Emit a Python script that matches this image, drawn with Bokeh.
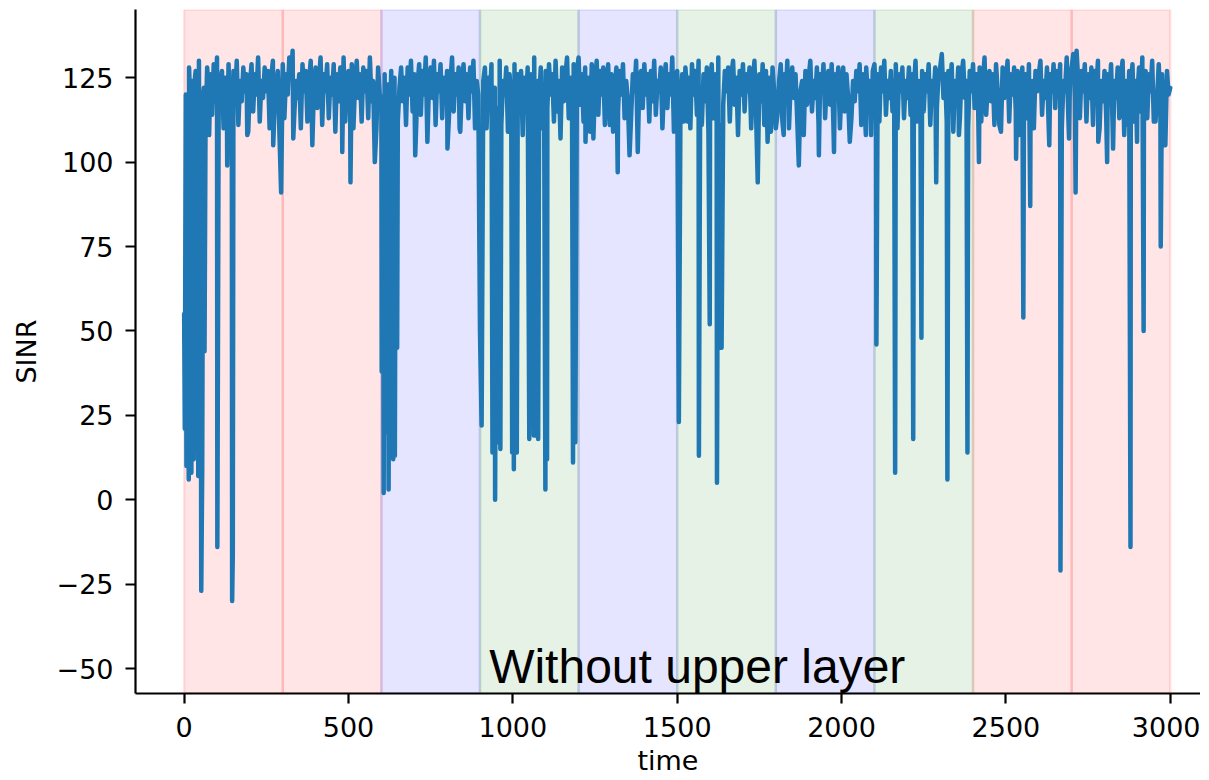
from bokeh.plotting import figure
from bokeh.models import BoxAnnotation, Label, CustomJSTickFormatter, FixedTicker, Range1d
from bokeh.embed import file_html
from bokeh.resources import INLINE

# ---------------- data ----------------
base_step = 5
base_values = [
    55, 126, 112, 128, 119, 124, 109, 127, 121, 130,
    117, 125, 122, 110, 128, 120, 126, 114, 129, 118,
    131, 116, 124, 127, 110, 125, 120, 129, 113, 123,
    127, 119, 130, 111, 124, 118, 128, 121, 126, 109,
    123, 129, 115, 126, 120, 131, 112, 124, 119, 128,
    121, 127, 110, 125, 130, 116, 123, 127, 108, 118,
    129, 113, 126, 120, 131, 125, 133, 114, 124, 119,
    126, 110, 129, 121, 127, 112, 124, 130, 118, 123,
    128, 116, 124, 131, 111, 126, 121, 129, 113, 125,
    120, 129, 109, 126, 118, 128, 122, 131, 112, 124,
    127, 115, 129, 110, 123, 130, 119, 126, 112, 128,
    121, 127, 113, 131, 118, 124, 129, 110, 128, 120,
    119, 114, 126, 110, 123, 117, 127, 108, 125, 116,
    112, 122, 128, 118, 125, 111, 128, 120, 130, 115,
    126, 108, 123, 129, 114, 127, 120, 131, 112, 124,
    128, 119, 130, 111, 126, 121, 129, 113, 125, 118,
    127, 112, 124, 131, 115, 126, 120, 128, 109, 123,
    129, 118, 126, 113, 128, 121, 130, 110, 124, 120,
    126, 112, 124, 128, 110, 125, 119, 129, 114, 122,
    127, 116, 130, 111, 124, 120, 128, 109, 126, 118,
    123, 129, 113, 126, 120, 127, 108, 125, 117, 128,
    115, 126, 121, 131, 111, 124, 119, 128, 110, 123,
    127, 116, 129, 120, 126, 112, 130, 115, 124, 121,
    128, 118, 126, 131, 113, 125, 120, 129, 111, 127,
    131, 117, 126, 112, 128, 121, 125, 109, 129, 119,
    124, 130, 114, 127, 120, 128, 111, 123, 129, 116,
    126, 109, 122, 128, 115, 127, 120, 129, 113, 124,
    118, 128, 114, 126, 121, 130, 110, 125, 127, 116,
    129, 120, 126, 112, 127, 118, 130, 114, 124, 121,
    128, 110, 123, 129, 116, 126, 120, 131, 113, 124,
    127, 131, 118, 126, 112, 128, 121, 125, 110, 129,
    120, 127, 114, 130, 122, 111, 126, 118, 128, 109,
    124, 129, 113, 126, 119, 131, 111, 125, 117, 127,
    121, 128, 112, 126, 130, 117, 125, 108, 127, 120,
    129, 115, 126, 121, 128, 110, 124, 130, 114, 123,
    126, 118, 129, 111, 127, 120, 125, 109, 128, 121,
    127, 114, 124, 129, 112, 126, 119, 130, 110, 123,
    128, 119, 126, 113, 129, 121, 124, 108, 127, 117,
    125, 130, 115, 124, 119, 128, 111, 126, 121, 129,
    113, 124, 127, 117, 129, 112, 126, 120, 128, 110,
    123, 128, 115, 126, 119, 130, 113, 124, 118, 127,
    121, 129, 111, 126, 116, 128, 120, 124, 108, 127,
    129, 118, 126, 112, 128, 121, 130, 114, 124, 119,
    127, 115, 124, 129, 110, 126, 121, 128, 113, 124,
    119, 128, 114, 126, 122, 130, 112, 124, 118, 127,
    115, 126, 121, 129, 111, 124, 119, 128, 116, 126,
    128, 132, 119, 126, 112, 127, 121, 129, 109, 124,
    118, 128, 113, 126, 130, 119, 124, 110, 127, 121,
    129, 116, 126, 120, 128, 112, 124, 131, 114, 123,
    127, 118, 126, 111, 129, 121, 124, 109, 128, 119,
    124, 130, 112, 126, 120, 128, 115, 127, 108, 124,
    128, 118, 126, 113, 129, 120, 124, 110, 127, 121,
    126, 130, 114, 124, 119, 128, 111, 126, 121, 129,
    116, 127, 120, 129, 110, 124, 121, 131, 113, 126,
    128, 132, 119, 133, 124, 113, 127, 121, 129, 112,
    126, 119, 128, 111, 127, 122, 130, 110, 124, 118,
    127, 114, 126, 121, 129, 109, 124, 119, 128, 113,
    126, 130, 117, 124, 111, 127, 121, 129, 112, 124,
    120, 128, 115, 131, 122, 127, 113, 126, 121, 130,
    112, 124, 119, 129, 116, 126, 109, 123, 127, 120,
    122,
]

dip_times = [
    2, 5, 7, 11, 14, 17, 19, 22, 26, 29, 33, 36, 39, 43, 47, 52, 55, 58, 62,
    76, 101, 131, 146, 148, 192, 271, 295, 332, 390, 481, 506, 580,
    601, 604, 607, 612, 616, 622, 627, 631, 636, 641, 644, 648,
    703, 740, 801, 838,
    900, 905,
    938, 943, 946, 950, 953, 958, 962,
    998, 1003, 1008, 1012,
    1050, 1064, 1070, 1077,
    1099, 1104,
    1145,
    1183, 1190,
    1221, 1245, 1295, 1319, 1355, 1380,
    1490,
    1505, 1532, 1566, 1599, 1621, 1627, 1635,
    1745, 1775, 1800, 1824, 1870, 1931, 1977, 2025, 2074,
    2106, 2163, 2218, 2243, 2288, 2322, 2357, 2383,
    2418, 2480, 2531, 2553, 2574, 2632, 2666, 2692, 2712, 2781, 2808, 2826, 2860, 2879, 2899, 2919, 2955, 2971, 2985,
]
dip_values = [
    21, 120, 10, 45, 6, 122, 43, 8, 118, 12, 125, 20, 121, 7, 48, -27, 9, 120, 44,
    108, -14, 99, -30, -16, 108, 105, 91, 107, 105, 103, 94, 100,
    38, 118, 2, 20, 121, 3, 115, 28, 12, 13, 119, 45,
    102, 106, 104, 110,
    50, 22,
    14, 118, 0, 112, 17, 60, 15,
    14, 9, 40, 14,
    18, 19, 19, 18,
    3, 12,
    107,
    11, 17,
    106, 107, 111, 97, 102, 103,
    109,
    23, 112, 13, 52, 5, 45, 45,
    94, 106, 110, 108, 99, 102, 103, 106, 108,
    46, 8, 18, 48, 94, 6, 108, 14,
    100, 111, 101, 54, 87, 105, -21, 107, 91, 106, 100, 104, 108, -14, 106, 50, 112, 75, 105,
]

band_starts = [0, 300, 600, 900, 1200, 1500, 1800, 2100, 2400, 2700]
band_ends = [300, 600, 900, 1200, 1500, 1800, 2100, 2400, 2700, 3000]
band_colors = ["#ff0000", "#ff0000", "#0000ff", "#008000", "#0000ff",
               "#008000", "#0000ff", "#008000", "#ff0000", "#ff0000"]

x_ticks = [0, 500, 1000, 1500, 2000, 2500, 3000]
y_ticks = [-50, -25, 0, 25, 50, 75, 100, 125]

note_text = "Without upper layer"
note_x, note_y = 1561, -49.5

# merge base samples with the spike samples
series = {i * base_step: v for i, v in enumerate(base_values)}
series.update(dict(zip(dip_times, dip_values)))
times = sorted(series)
values = [series[t] for t in times]

# ---------------- figure ----------------
p = figure(width=1200, height=779, output_backend="svg", toolbar_location=None,
           x_range=Range1d(-148, 3092), y_range=Range1d(-57.4, 145.2),
           min_border_left=135, min_border_top=9, min_border_right=0, min_border_bottom=86)
p.outline_line_color = None
p.xgrid.visible = False
p.ygrid.visible = False
p.background_fill_color = "white"
p.border_fill_color = "white"

for s, e, c in zip(band_starts, band_ends, band_colors):
    p.add_layout(BoxAnnotation(left=s, right=e, fill_color=c, fill_alpha=0.1,
                               line_color=c, line_alpha=0.1, line_width=2.5, level="underlay"))

p.line(times, values, line_width=4.5, line_color="#1f77b4", line_join="round", line_cap="round")

p.add_layout(Label(x=note_x, y=note_y, text=note_text, text_align="center",
                   text_baseline="alphabetic", text_font="Liberation Sans",
                   text_font_size="48px", text_color="black"))

minus_fmt = CustomJSTickFormatter(code="return tick < 0 ? '\\u2212' + Math.abs(tick) : String(tick);")

for ax in (p.xaxis[0], p.yaxis[0]):
    ax.axis_line_width = 2.2
    ax.axis_line_color = "black"
    ax.major_tick_line_width = 2.2
    ax.major_tick_line_color = "black"
    ax.major_tick_out = 10
    ax.major_tick_in = 0
    ax.minor_tick_out = 0
    ax.minor_tick_in = 0
    ax.major_label_text_font = "DejaVu Sans"
    ax.major_label_text_font_size = "27px"
    ax.major_label_text_color = "black"
    ax.axis_label_text_font = "DejaVu Sans"
    ax.axis_label_text_font_size = "27px"
    ax.axis_label_text_font_style = "normal"
    ax.axis_label_text_color = "black"

p.xaxis.major_label_standoff = 13
p.yaxis.major_label_standoff = 12
p.xaxis.ticker = FixedTicker(ticks=x_ticks)
p.yaxis.ticker = FixedTicker(ticks=y_ticks)
p.yaxis.formatter = minus_fmt
p.xaxis.axis_label = "time"
p.yaxis.axis_label = "SINR"
p.xaxis.axis_label_standoff = 5
p.yaxis.axis_label_standoff = 12

open("out.html", "w").write(file_html(p, INLINE))
